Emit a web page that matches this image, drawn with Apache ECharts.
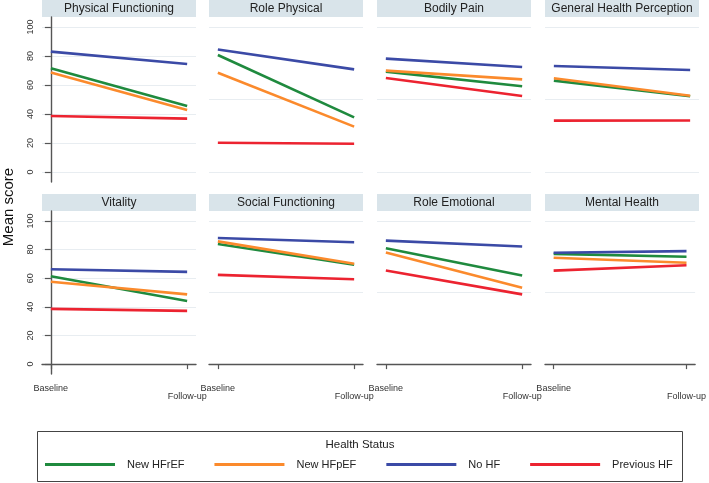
<!DOCTYPE html>
<html><head><meta charset="utf-8">
<script src="https://cdn.jsdelivr.net/npm/echarts@6/dist/echarts.min.js"></script>
<style>html,body{margin:0;padding:0;background:#fff}#c{width:709px;height:483px}</style>
</head><body><div id="c"></div>
<script>
// ---- data ----
const categories = ['Baseline', 'Follow-up'];
const panels = ['Physical Functioning', 'Role Physical', 'Bodily Pain', 'General Health Perception',
                'Vitality', 'Social Functioning', 'Role Emotional', 'Mental Health'];
const seriesNames = ['New HFrEF', 'New HFpEF', 'No HF', 'Previous HF'];
const newHFrEF   = [[71.5,45.5],[80.7,37.7],[69.2,59.1],[63.0,52.2],[61.4,44.1],[83.9,69.4],[80.9,61.8],[77.0,75.0]];
const newHFpEF   = [[68.7,42.8],[68.5,31.3],[69.9,63.9],[64.6,52.6],[57.5,48.7],[85.7,70.1],[77.9,53.3],[74.3,70.8]];
const noHF       = [[83.0,74.5],[84.5,70.8],[78.2,72.4],[73.1,70.3],[66.2,64.4],[88.0,85.1],[86.2,82.1],[77.7,78.9]];
const previousHF = [[38.6,36.8],[20.2,19.5],[64.8,52.4],[35.4,35.5],[38.6,37.2],[62.3,59.3],[65.3,48.7],[65.3,69.0]];
const yTickLabels = [0, 20, 40, 60, 80, 100];
const yGridOther = [0, 50, 100];
const yTitle = 'Mean score';
const legendTitle = 'Health Status';

// ---- style / layout ----
const allSeries = [newHFrEF, newHFpEF, noHF, previousHF];
const colors = ['#1f8a3e', '#fb8a2c', '#3b4aa6', '#ec2330'];
const FONT = 'Liberation Sans, Arial, sans-serif';
const lefts = [42, 209, 377, 545];
const pw = 154;
const rowTops = [17, 211];
const rowHeights = [165, 163];
const headerH = 17;
const axisColor = '#555';

const grid = [], xAxis = [], yAxis = [], series = [], graphic = [];
panels.forEach((p, i) => {
  const row = i < 4 ? 0 : 1, col = i % 4;
  grid.push({left: lefts[col], top: rowTops[row], width: pw, height: rowHeights[row], containLabel: false});
  xAxis.push({
    type: 'value', gridIndex: i, min: -0.065, max: 1.065, show: row === 1,
    axisLine: {show: true, lineStyle: {color: axisColor, width: 1.4}},
    axisTick: {show: true, customValues: [0, 1], length: 5, lineStyle: {color: axisColor, width: 1.2}},
    axisLabel: {
      customValues: [0, 1], fontSize: 9, color: '#333', fontFamily: FONT, margin: 10,
      formatter: v => v === 0 ? categories[0] : '{f|' + categories[1] + '}',
      rich: {f: {fontSize: 9, color: '#333', fontFamily: FONT, padding: [8, 0, 0, 0]}}
    },
    splitLine: {show: false}
  });
  const left = col === 0;
  const vals = left ? yTickLabels : yGridOther;
  yAxis.push({
    type: 'value', gridIndex: i, min: -6.9, max: 106.9,
    axisLine: {show: left, lineStyle: {color: axisColor, width: 1.4}},
    axisTick: {show: left, customValues: vals, length: 6, lineStyle: {color: axisColor, width: 1.2}},
    axisLabel: {show: left, customValues: vals, rotate: 90, fontSize: 9, color: '#333', fontFamily: FONT, margin: 7},
    splitLine: {show: true, lineStyle: {color: '#e8edf1', width: 1}}
  });
  allSeries.forEach((arr, s) => {
    series.push({
      type: 'line', name: seriesNames[s], xAxisIndex: i, yAxisIndex: i,
      data: categories.map((c, k) => [k, arr[i][k]]),
      symbol: 'none', color: colors[s], lineStyle: {width: 2.6, color: colors[s]},
      silent: true, animation: false
    });
  });
  const hTop = rowTops[row] - headerH;
  graphic.push({type: 'rect', shape: {x: lefts[col], y: hTop, width: pw, height: headerH}, style: {fill: '#d9e4ea'}, silent: true});
  graphic.push({type: 'text', x: lefts[col] + pw / 2, y: hTop + headerH / 2 + 0.5,
    style: {text: p, fill: '#222', font: '12px ' + FONT, textAlign: 'center', textVerticalAlign: 'middle'}, silent: true});
});
graphic.push({type: 'text', x: 9, y: 207, rotation: Math.PI / 2,
  style: {text: yTitle, fill: '#111', font: '15px ' + FONT, textAlign: 'center', textVerticalAlign: 'middle'}});
graphic.push({type: 'rect', shape: {x: 37.5, y: 431.5, width: 645, height: 50}, style: {fill: 'none', stroke: '#444', lineWidth: 1}});
graphic.push({type: 'text', x: 360, y: 445,
  style: {text: legendTitle, fill: '#222', font: '11.5px ' + FONT, textAlign: 'center', textVerticalAlign: 'middle'}});

const chart = echarts.init(document.getElementById('c'), null, {renderer: 'canvas'});
chart.setOption({
  backgroundColor: '#fff',
  animation: false,
  grid, xAxis, yAxis, series, graphic,
  legend: {
    data: seriesNames, left: 45, top: 459, padding: 0, icon: 'rect', itemWidth: 70, itemHeight: 3, itemGap: 30,
    textStyle: {fontSize: 11, color: '#222', fontFamily: FONT, padding: [0, 0, 0, 7]},
    selectedMode: false
  }
});
</script></body></html>
